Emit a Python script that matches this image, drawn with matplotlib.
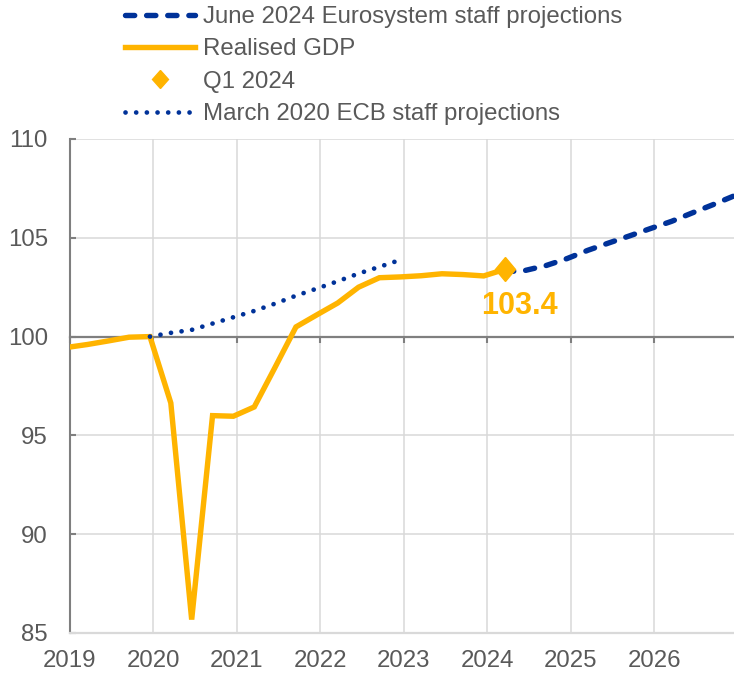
import matplotlib
matplotlib.use("Agg")
import matplotlib.pyplot as plt
from matplotlib.lines import Line2D
from matplotlib.markers import MarkerStyle
from matplotlib.transforms import Affine2D

plt.rcParams['font.family'] = ['Liberation Sans', 'DejaVu Sans']

# ---------------- data ----------------
realised_quarters = ["2018Q4", "2019Q1", "2019Q2", "2019Q3", "2019Q4",
                     "2020Q1", "2020Q2", "2020Q3", "2020Q4",
                     "2021Q1", "2021Q2", "2021Q3", "2021Q4",
                     "2022Q1", "2022Q2", "2022Q3", "2022Q4",
                     "2023Q1", "2023Q2", "2023Q3", "2023Q4", "2024Q1"]
realised_gdp = [99.45, 99.6, 99.78, 99.97, 100.0,
                96.64, 85.68, 96.0, 95.97,
                96.44, 98.45, 100.49, 101.1,
                101.7, 102.5, 102.98, 103.02,
                103.08, 103.18, 103.14, 103.07, 103.4]

march2020_quarters = ["2019Q4", "2020Q1", "2020Q2", "2020Q3", "2020Q4",
                      "2021Q1", "2021Q2", "2021Q3", "2021Q4",
                      "2022Q1", "2022Q2", "2022Q3", "2022Q4"]
march2020_proj = [100.0, 100.19, 100.34, 100.66, 100.98,
                  101.3, 101.67, 102.07, 102.43,
                  102.8, 103.19, 103.53, 103.88]

june2024_quarters = ["2024Q1", "2024Q2", "2024Q3", "2024Q4",
                     "2025Q1", "2025Q2", "2025Q3", "2025Q4",
                     "2026Q1", "2026Q2", "2026Q3", "2026Q4"]
june2024_proj = [103.28, 103.35, 103.6, 103.95,
                 104.37, 104.74, 105.1, 105.47,
                 105.83, 106.26, 106.68, 107.12]

highlight_quarter = "2024Q1"
highlight_value = 103.4

year_ticks = [2019, 2020, 2021, 2022, 2023, 2024, 2025, 2026]
y_ticks = [85, 90, 95, 100, 105, 110]

labels = ["June 2024 Eurosystem staff projections", "Realised GDP",
          "Q1 2024", "March 2020 ECB staff projections"]


def qpos(q):
    """Quarter -> decimal year at the middle of the quarter's last month."""
    year, quarter = int(q[:4]), int(q[-1])
    month = quarter * 3
    return year + (month - 0.5) / 12.0


# ---------------- style ----------------
YELLOW = "#FFB400"
BLUE = "#003299"
GREY = "#7F7F7F"
GRID = "#D9D9D9"
TEXT = "#595959"
FS = 17.3

W, H = 734, 673
fig = plt.figure(figsize=(W / 100, H / 100), dpi=100)
ax = fig.add_axes([70 / W, 40 / H, 664 / W, 494 / H])

xr = [qpos(q) for q in realised_quarters]
xm = [qpos(q) for q in march2020_quarters]
xj = [qpos(q) for q in june2024_quarters]

diamond = MarkerStyle('D', transform=Affine2D().scale(0.85, 1.0))

ax.plot(xr, realised_gdp, color=YELLOW, lw=3.9, solid_joinstyle='miter',
        solid_capstyle='butt', zorder=3)
ax.plot(xm, march2020_proj, color=BLUE, lw=3.4, linestyle=(0, (0.01, 2.25)),
        dash_capstyle='round', zorder=4)
ax.plot(xj, june2024_proj, color=BLUE, lw=3.9, linestyle=(0, (1.7, 2.2)),
        dash_capstyle='round', zorder=4)
ax.plot([qpos(highlight_quarter)], [highlight_value], linestyle='none',
        marker=diamond, markersize=12.5, color=YELLOW, zorder=5)

ax.annotate(f"{highlight_value:.1f}", xy=(qpos(highlight_quarter), highlight_value),
            xytext=(11, -26), textcoords='offset points', ha='center', va='center',
            fontsize=22, fontweight='bold', color=YELLOW, zorder=6)

ax.set_xlim(2019, qpos("2026Q4"))
ax.set_ylim(85, 110)
ax.set_xticks(year_ticks)
ax.set_xticklabels([str(y) for y in year_ticks])
ax.set_yticks(y_ticks)
ax.set_yticklabels([str(v) for v in y_ticks])

ax.set_axisbelow(True)
ax.grid(True, color=GRID, lw=1.1)

for s in ("top", "right"):
    ax.spines[s].set_visible(False)
ax.spines["left"].set_color(GREY)
ax.spines["left"].set_linewidth(1.5)
ax.spines["bottom"].set_color(GRID)
ax.spines["bottom"].set_linewidth(1.6)

ax.tick_params(axis='x', length=0, pad=12, labelsize=FS, labelcolor=TEXT)
ax.tick_params(axis='y', direction='in', length=4.5, width=1.5, color=GREY,
               pad=16, labelsize=FS, labelcolor=TEXT)

# axis line at 100 with tick marks
try:
    sec = ax.secondary_xaxis(100, transform=ax.transData)
except TypeError:
    sec = ax.secondary_xaxis((100 - 85) / (110 - 85))
sec.set_alignment('bottom')
sec.set_zorder(1)
sec.set_xticks(year_ticks)
sec.tick_params(axis='x', direction='out', length=4, width=1.5, color=GREY,
                labelbottom=False, labeltop=False)
sec.spines['bottom'].set_color(GREY)
sec.spines['bottom'].set_linewidth(1.6)

handles = [
    Line2D([], [], color=BLUE, lw=3.9, linestyle=(0, (1.7, 2.2)), dash_capstyle='round'),
    Line2D([], [], color=YELLOW, lw=3.9),
    Line2D([], [], color=YELLOW, linestyle='none', marker=diamond, markersize=9),
    Line2D([], [], color=BLUE, lw=3.4, linestyle=(0, (0.01, 2.25)), dash_capstyle='round'),
]
leg = fig.legend(handles, labels, loc='upper left', bbox_to_anchor=(125 / W, 1 - 6 / H),
                 frameon=False, borderpad=0, borderaxespad=0, handlelength=2.9,
                 handletextpad=0.36, labelspacing=0.43, fontsize=FS)
for t in leg.get_texts():
    t.set_color(TEXT)

fig.savefig("out.png", dpi=100)
